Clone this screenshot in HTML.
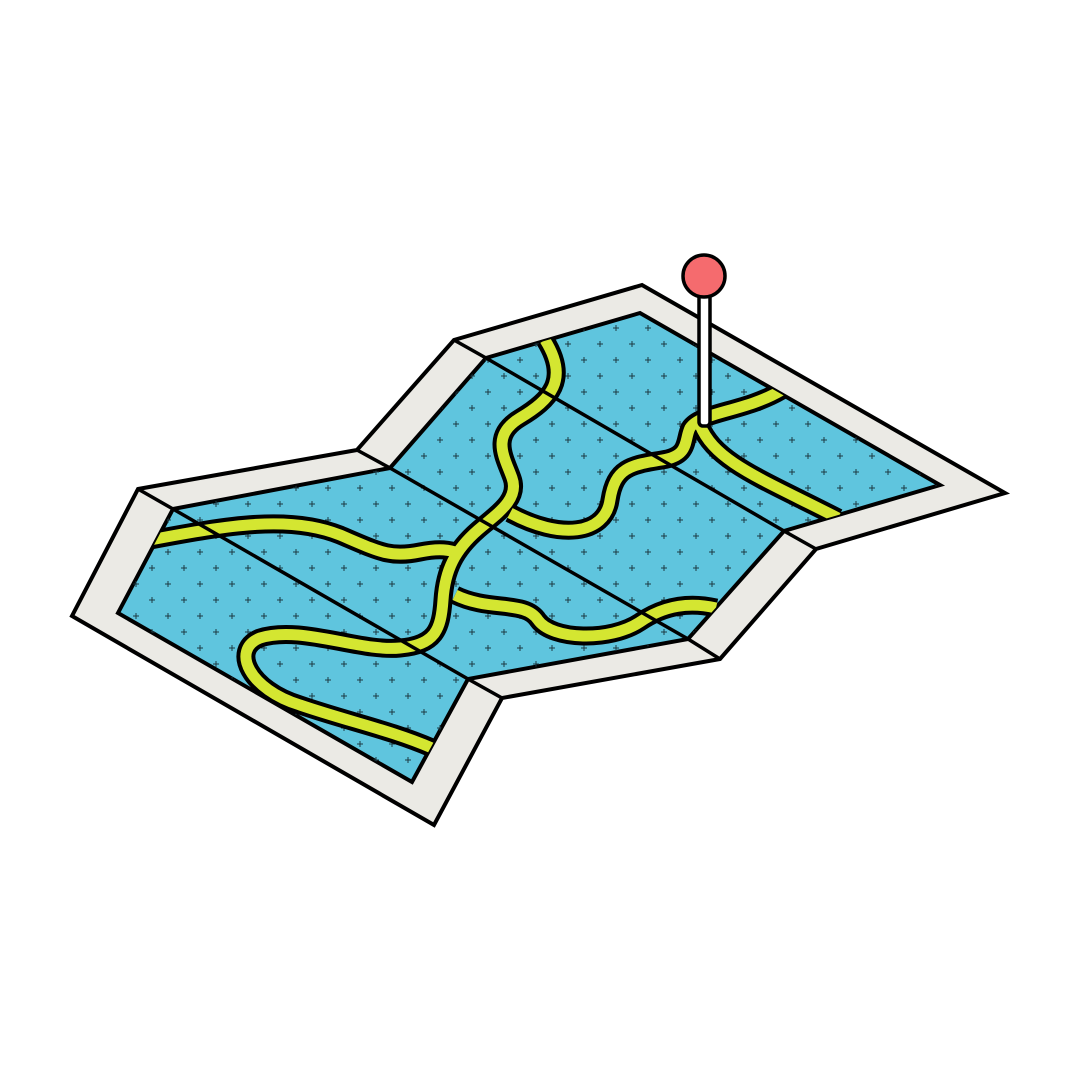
<!DOCTYPE html>
<html><head><meta charset="utf-8"><style>
html,body{margin:0;padding:0;background:#fff;}
svg{display:block;}
</style></head><body>
<svg width="1080" height="1080" viewBox="0 0 1080 1080" xmlns="http://www.w3.org/2000/svg">
<defs>
<pattern id="plus" x="0" y="0" width="32" height="32" patternUnits="userSpaceOnUse">
<g stroke="#1d3a44" stroke-width="1">
<line x1="5" y1="8" x2="11" y2="8"/><line x1="8" y1="5" x2="8" y2="11"/>
<line x1="21" y1="24" x2="27" y2="24"/><line x1="24" y1="21" x2="24" y2="27"/>
</g>
</pattern>
<clipPath id="mapclip"><polygon points="173,509 390,468 486,358 640,313 940,485 784,531 688,639 468,679 412,782 118,613"/></clipPath>
</defs>
<polygon points="138,489 357,450 454,340 642,285 1005,493 816,549 720,659 502,698 434,825 72,616" fill="#ebeae5" stroke="#000" stroke-width="4" stroke-linejoin="miter"/>
<polygon points="173,509 390,468 486,358 640,313 940,485 784,531 688,639 468,679 412,782 118,613" fill="#5fc5de" stroke="#000" stroke-width="4"/>
<rect x="60" y="280" width="960" height="560" fill="url(#plus)" clip-path="url(#mapclip)"/>
<g clip-path="url(#mapclip)" fill="none" stroke-linecap="butt">
<g stroke="#000" stroke-width="19">
<path d="M150,540 C230,525 290,515 340,535 C380,552 390,558 420,552 C440,548 450,550 458,553"/>
<path d="M545,340 C570,380 550,400 520,418 C490,436 505,458 512,478 C520,500 495,515 478,530 C455,550 445,570 443,600 C441,630 435,645 400,648 C360,652 300,625 260,638 C230,650 250,690 300,705 C350,722 390,730 432,748"/>
<path d="M510,513 C560,540 605,535 610,500 C615,468 630,465 662,460 C690,456 684,440 690,428 C700,412 745,412 782,390"/>
<path d="M700,425 C715,462 760,478 838,518"/>
<path d="M455,595 C490,612 525,600 538,620 C552,640 610,642 640,622 C665,605 690,602 716,608"/>
</g>
<g stroke="#d4e631" stroke-width="11">
<path d="M150,540 C230,525 290,515 340,535 C380,552 390,558 420,552 C440,548 450,550 458,553"/>
<path d="M545,340 C570,380 550,400 520,418 C490,436 505,458 512,478 C520,500 495,515 478,530 C455,550 445,570 443,600 C441,630 435,645 400,648 C360,652 300,625 260,638 C230,650 250,690 300,705 C350,722 390,730 432,748"/>
<path d="M510,513 C560,540 605,535 610,500 C615,468 630,465 662,460 C690,456 684,440 690,428 C700,412 745,412 782,390"/>
<path d="M700,425 C715,462 760,478 838,518"/>
<path d="M455,595 C490,612 525,600 538,620 C552,640 610,642 640,622 C665,605 690,602 716,608"/>
</g>
</g>
<g stroke="#000" stroke-width="3.5">
<line x1="173" y1="509" x2="468" y2="679"/>
<line x1="390" y1="468" x2="688" y2="639"/>
<line x1="486" y1="358" x2="784" y2="531"/>
<line x1="138" y1="489" x2="173" y2="509"/>
<line x1="357" y1="450" x2="390" y2="468"/>
<line x1="454" y1="340" x2="486" y2="358"/>
<line x1="816" y1="549" x2="784" y2="531"/>
<line x1="720" y1="659" x2="688" y2="639"/>
<line x1="502" y1="698" x2="468" y2="679"/>
</g>
<g>
<rect x="699" y="292" width="11" height="134" rx="4" fill="#fff" stroke="#000" stroke-width="3.5"/>
<circle cx="704" cy="276" r="21" fill="#f56b6e" stroke="#000" stroke-width="3.5"/>
</g>
</svg>
</body></html>
